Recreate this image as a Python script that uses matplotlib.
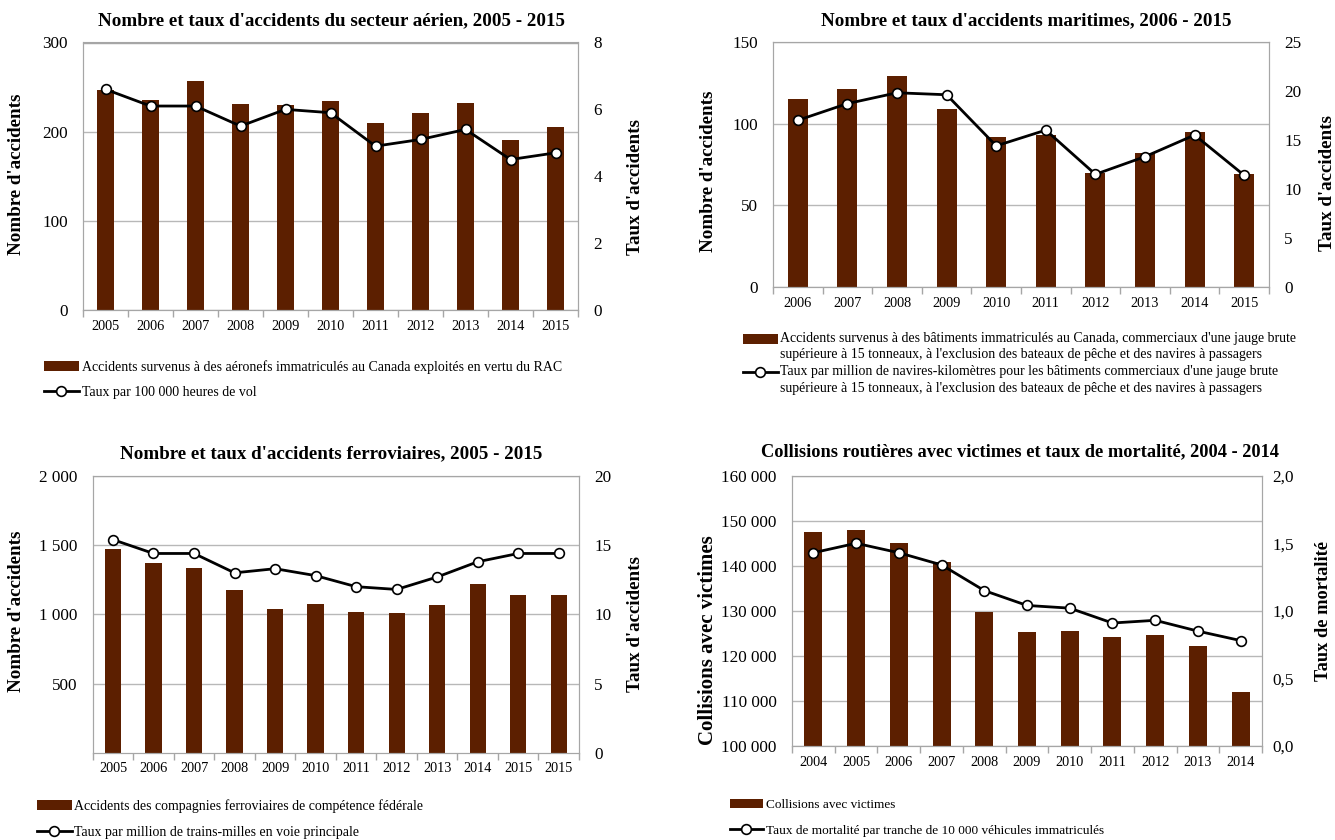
import matplotlib
matplotlib.use('Agg')
import matplotlib.pyplot as plt
import matplotlib.patches as mpatches
from matplotlib.legend_handler import HandlerPatch, HandlerLine2D
import numpy as np

plt.rcParams['font.family'] = ['Liberation Serif', 'DejaVu Serif']

# ---------------- Data ----------------
air_years = ['2005', '2006', '2007', '2008', '2009', '2010', '2011', '2012', '2013', '2014', '2015']
air_accidents = [247, 236, 257, 231, 230, 234, 210, 221, 232, 191, 205]
air_rate = [6.6, 6.1, 6.1, 5.5, 6.0, 5.9, 4.9, 5.1, 5.4, 4.5, 4.7]

mar_years = ['2006', '2007', '2008', '2009', '2010', '2011', '2012', '2013', '2014', '2015']
mar_accidents = [115, 121, 129, 109, 92, 93, 70, 82, 95, 69]
mar_rate = [17.0, 18.7, 19.8, 19.6, 14.4, 16.0, 11.5, 13.3, 15.5, 11.4]

rail_years = ['2005', '2006', '2007', '2008', '2009', '2010', '2011', '2012', '2013', '2014', '2015', '2015']
rail_accidents = [1475, 1369, 1333, 1176, 1041, 1072, 1019, 1007, 1065, 1217, 1142, 1142]
rail_rate = [15.4, 14.4, 14.4, 13.0, 13.3, 12.8, 12.0, 11.8, 12.7, 13.8, 14.4, 14.4]

road_years = ['2004', '2005', '2006', '2007', '2008', '2009', '2010', '2011', '2012', '2013', '2014']
road_collisions = [147500, 148000, 145000, 140900, 129700, 125400, 125500, 124100, 124700, 122300, 112000]
road_rate = [1.43, 1.50, 1.43, 1.34, 1.15, 1.04, 1.02, 0.91, 0.93, 0.85, 0.78]

# ---------------- Style ----------------
W, H = 1335, 840
BAR = '#5C1F00'
GRID = '#b8b8b8'
FRAME = '#a6a6a6'

fig = plt.figure(figsize=(W / 100, H / 100), dpi=100)


class UpPatch(HandlerPatch):
    def __init__(self, dy=0, **kw):
        super().__init__(**kw)
        self._dy = dy

    def create_artists(self, legend, orig_handle, xdescent, ydescent,
                       width, height, fontsize, trans):
        return super().create_artists(legend, orig_handle, xdescent, ydescent - self._dy,
                                      width, height, fontsize, trans)


class UpLine(HandlerLine2D):
    def __init__(self, dy=0, **kw):
        super().__init__(**kw)
        self._dy = dy

    def create_artists(self, legend, orig_handle, xdescent, ydescent,
                       width, height, fontsize, trans):
        return super().create_artists(legend, orig_handle, xdescent, ydescent - 2 * self._dy,
                                      width, height, fontsize, trans)


def px_rect(x0, y0, x1, y1):
    return [x0 / W, 1 - y1 / H, (x1 - x0) / W, (y1 - y0) / H]


def fmt_space(v):
    return f"{v:,}".replace(',', ' ')


def panel(rect, xlabels, bars, rates, lylim, lticks, lticklabels,
          rylim, rticks, rticklabels, title, title_xy,
          ylab_l, ylab_l_xy, ylab_r, ylab_r_xy,
          leg_labels, leg_xy, labelspacing, bar_width=0.4, rpad=11,
          leg_fs=10, ylab_l_fs=13.7, ylab_r_fs=13.7, leg_dy=0, leg_linespacing=1.2,
          title_fs=13.7):
    ax = fig.add_axes(px_rect(*rect))
    n = len(xlabels)
    x = np.arange(n)
    ax.bar(x, bars, width=bar_width, color=BAR, zorder=2)
    ax.set_xlim(-0.5, n - 0.5)
    ax.set_ylim(*lylim)
    ax.set_yticks(lticks)
    ax.set_yticklabels(lticklabels)
    ax.set_xticks(x)
    ax.set_xticklabels(xlabels)
    ax.set_xticks(np.arange(-0.5, n, 1), minor=True)
    ax.tick_params(axis='x', which='major', length=0, pad=7, labelsize=10.3)
    ax.tick_params(axis='x', which='minor', length=5, color=FRAME, width=1)
    ax.tick_params(axis='y', length=0, pad=11, labelsize=12.3)
    ax.grid(axis='y', color=GRID, lw=1)
    ax.set_axisbelow(True)
    for s in ax.spines.values():
        s.set_color(FRAME)

    ax2 = ax.twinx()
    ln, = ax2.plot(x, rates, color='black', lw=2, marker='o', ms=7,
                   mfc='white', mec='black', mew=1.2, zorder=3)
    ax2.set_ylim(*rylim)
    ax2.set_yticks(rticks)
    ax2.set_yticklabels(rticklabels)
    ax2.tick_params(axis='y', length=0, pad=rpad, labelsize=12.3)
    for s in ax2.spines.values():
        s.set_color(FRAME)

    fig.text(title_xy[0] / W, 1 - title_xy[1] / H, title, ha='center', va='center',
             fontsize=title_fs, fontweight='bold')
    fig.text(ylab_l_xy[0] / W, 1 - ylab_l_xy[1] / H, ylab_l, rotation=90,
             ha='center', va='center', fontsize=ylab_l_fs, fontweight='bold')
    fig.text(ylab_r_xy[0] / W, 1 - ylab_r_xy[1] / H, ylab_r, rotation=90,
             ha='center', va='center', fontsize=ylab_r_fs, fontweight='bold')

    bar_proxy = mpatches.Patch(facecolor=BAR, edgecolor='none')
    leg = fig.legend([bar_proxy, ln], leg_labels, loc='upper left',
                     bbox_to_anchor=(leg_xy[0] / W, 1 - leg_xy[1] / H),
                     frameon=False, fontsize=leg_fs, borderpad=0, borderaxespad=0,
                     handlelength=2.5, handletextpad=0.2, labelspacing=labelspacing,
                     handler_map={bar_proxy: UpPatch(leg_dy), ln: UpLine(leg_dy)})
    for t in leg.get_texts():
        t.set_linespacing(leg_linespacing)
    return ax, ax2


# Air
panel((83, 42.5, 578, 310), air_years, air_accidents, air_rate,
      (0, 300), [0, 100, 200, 300], ['0', '100', '200', '300'],
      (0, 8), [0, 2, 4, 6, 8], ['0', '2', '4', '6', '8'],
      "Nombre et taux d'accidents du secteur aérien, 2005 - 2015", (331, 21),
      "Nombre d'accidents", (17, 174), "Taux d'accidents", (635, 187),
      ["Accidents survenus à des aéronefs immatriculés au Canada exploités en vertu du RAC",
       "Taux par 100 000 heures de vol"],
      (44, 360), 0.85, bar_width=0.38)

# Maritime
panel((773, 41.7, 1269, 287.3), mar_years, mar_accidents, mar_rate,
      (0, 150), [0, 50, 100, 150], ['0', '50', '100', '150'],
      (0, 25), [0, 5, 10, 15, 20, 25], ['0', '5', '10', '15', '20', '25'],
      "Nombre et taux d'accidents maritimes, 2006 - 2015", (1026, 21),
      "Nombre d'accidents", (708, 171), "Taux d'accidents", (1327, 183),
      ["Accidents survenus à des bâtiments immatriculés au Canada, commerciaux d'une jauge brute\n"
       "supérieure à 15 tonneaux, à l'exclusion des bateaux de pêche et des navires à passagers",
       "Taux par million de navires-kilomètres pour les bâtiments commerciaux d'une jauge brute\n"
       "supérieure à 15 tonneaux, à l'exclusion des bateaux de pêche et des navires à passagers"],
      (743, 332), 0.3, bar_width=0.4, leg_dy=5.8, leg_linespacing=1.32)

# Rail
panel((92.7, 476, 579, 752.7), rail_years, rail_accidents, rail_rate,
      (0, 2000), [500, 1000, 1500, 2000], [fmt_space(v) for v in [500, 1000, 1500, 2000]],
      (0, 20), [0, 5, 10, 15, 20], ['0', '5', '10', '15', '20'],
      "Nombre et taux d'accidents ferroviaires, 2005 - 2015", (331, 454),
      "Nombre d'accidents", (17, 611), "Taux d'accidents", (635, 624),
      ["Accidents des compagnies ferroviaires de compétence fédérale",
       "Taux par million de trains-milles en voie principale"],
      (37, 799), 0.95, bar_width=0.4)

# Road
panel((792, 475.7, 1262, 746), road_years, road_collisions, road_rate,
      (100000, 160000), list(range(100000, 160001, 10000)),
      [fmt_space(v) for v in range(100000, 160001, 10000)],
      (0, 2.0), [0, 0.5, 1.0, 1.5, 2.0], ['0,0', '0,5', '1,0', '1,5', '2,0'],
      "Collisions routières avec victimes et taux de mortalité, 2004 - 2014", (1020, 452),
      "Collisions avec victimes", (708, 640), "Taux de mortalité", (1323, 611),
      ["Collisions avec victimes",
       "Taux de mortalité par tranche de 10 000 véhicules immatriculés"],
      (730, 799), 1.0, bar_width=0.42, rpad=7.5, leg_fs=9.5, ylab_l_fs=15, ylab_r_fs=13.2,
      title_fs=13.2)

fig.savefig('out.png', dpi=100)
